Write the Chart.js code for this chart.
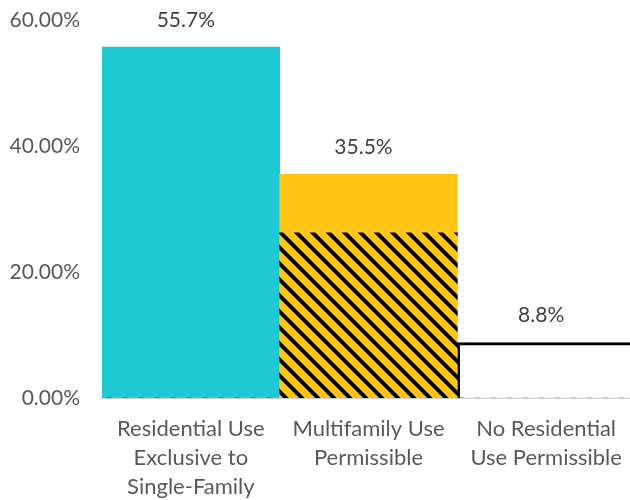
<!DOCTYPE html>
<html>
<head>
<meta charset="utf-8">
<script src="https://cdn.jsdelivr.net/npm/chart.js@4"></script>
<style>
  html, body { margin: 0; padding: 0; background: #fff; overflow: hidden; }
  #wrap { width: 635px; height: 500px; }
</style>
</head>
<body>
<div id="wrap"><canvas id="zoning" width="635" height="500"></canvas></div>
<script>
const categories = [
  ['Residential Use', 'Exclusive to', 'Single-Family'],
  ['Multifamily Use', 'Permissible'],
  ['No Residential', 'Use Permissible']
];
const totals = [55.7, 35.5, 8.8];
const hatchedPart = [0, 26.2, 0];
const yTicks = [0, 20, 40, 60];

const topPart = totals.map((v, i) => +(v - hatchedPart[i]).toFixed(1));
const FONT = 'Lato, sans-serif';

// black/yellow diagonal stripes for the lower part of the middle bar
function stripes() {
  const c = document.createElement('canvas');
  c.width = 16; c.height = 16;
  const g = c.getContext('2d');
  g.fillStyle = '#fec514';
  g.fillRect(0, 0, 16, 16);
  g.strokeStyle = '#000';
  g.lineWidth = 4;
  g.beginPath();
  g.moveTo(-4, -4); g.lineTo(20, 20);
  g.moveTo(-20, -4); g.lineTo(4, 20);
  g.moveTo(12, -4); g.lineTo(36, 20);
  g.stroke();
  return g.createPattern(c, 'repeat');
}

const valueLabels = {
  id: 'valueLabels',
  afterDatasetsDraw(chart) {
    const ctx = chart.ctx;
    const meta = chart.getDatasetMeta(1);
    const y = chart.scales.y;
    ctx.save();
    ctx.font = '21px ' + FONT;
    ctx.fillStyle = '#404040';
    ctx.textAlign = 'center';
    ctx.textBaseline = 'middle';
    totals.forEach((v, i) => {
      ctx.fillText(v.toFixed(1) + '%', meta.data[i].x - 5, y.getPixelForValue(v) - 27);
    });
    ctx.restore();
  }
};

const ctx = document.getElementById('zoning').getContext('2d');
const chart = new Chart(ctx, {
  type: 'bar',
  data: {
    labels: categories,
    datasets: [
      {
        data: hatchedPart,
        backgroundColor: stripes(),
        borderWidth: 0
      },
      {
        data: topPart,
        backgroundColor: ['#1ec9d4', '#fec514', '#ffffff'],
        borderColor: ['#1ec9d4', '#fec514', '#000000'],
        borderWidth: [0, 0, { top: 3, left: 3, right: 3, bottom: 0 }],
        borderSkipped: false
      }
    ]
  },
  plugins: [valueLabels],
  options: {
    responsive: false,
    animation: false,
    layout: { padding: { top: 20, right: 0, left: 0, bottom: 0 } },
    plugins: {
      legend: { display: false },
      tooltip: { enabled: false }
    },
    datasets: {
      bar: { categoryPercentage: 1, barPercentage: 1 }
    },
    scales: {
      x: {
        stacked: true,
        grid: { display: false, drawTicks: false },
        border: { display: true, color: '#d0d0d0', width: 2 },
        ticks: {
          color: '#595959',
          padding: 16,
          maxRotation: 0,
          autoSkip: false,
          font: { family: FONT, size: 22, lineHeight: 1.33 }
        },
        afterFit(s) {
          s.height = 102;
          s.paddingLeft = 0;
          s.paddingRight = 0;
        }
      },
      y: {
        stacked: true,
        min: yTicks[0],
        max: yTicks[yTicks.length - 1],
        grid: { display: false, drawTicks: false },
        border: { display: false },
        afterBuildTicks(s) { s.ticks = yTicks.map(v => ({ value: v })); },
        ticks: {
          color: '#595959',
          padding: 22,
          font: { family: FONT, size: 21 },
          callback: v => v.toFixed(2) + '%'
        },
        afterFit(s) {
          s.width = 102;
          s.paddingTop = 0;
          s.paddingBottom = 0;
        }
      }
    }
  }
});
</script>
</body>
</html>
